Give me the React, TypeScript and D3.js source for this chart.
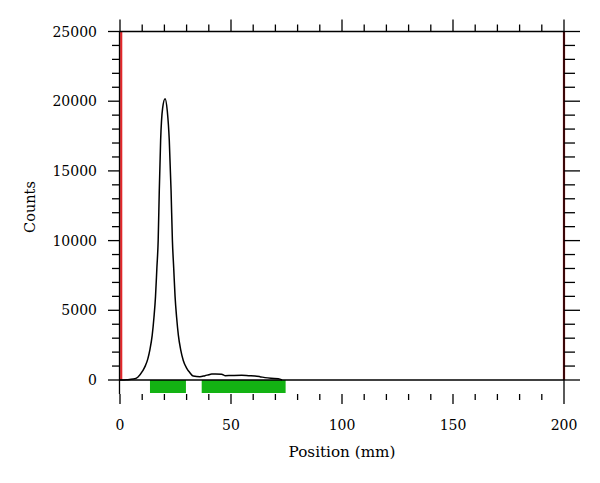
import { useEffect, useRef } from "react";
import * as d3 from "d3";

// profile
const positions = [0, 3, 6, 8, 10.2, 11.5, 12.5, 13.5, 14.5, 15.3, 16, 16.6, 17.2, 17.7, 18.3, 19.2, 20.3, 21.3, 22.2, 23, 23.6, 24.2, 24.8, 25.5, 26.3, 27.3, 28.5, 30, 31.5, 33, 36, 38.3, 40, 41.3, 43, 45.8, 47.3, 50, 54.8, 58, 60.8, 63, 65.3, 68, 71.3, 73];
const counts = [0, 20, 70, 200, 650, 1050, 1500, 2200, 3200, 4500, 6000, 8000, 10030, 13610, 17190, 19500, 20180, 19300, 17190, 13610, 10030, 8000, 6000, 4500, 3200, 2200, 1400, 850, 520, 280, 230, 310, 380, 430, 430, 410, 310, 320, 335, 310, 290, 240, 170, 120, 90, 0];

// green segments in the strip under the axis
const segStart = [13.5, 36.8];
const segEnd = [29.7, 74.6];

// red markers
const markers = [0, 200];

const xTicks = [0, 50, 100, 150, 200];
const yTicks = [0, 5000, 10000, 15000, 20000, 25000];

const font = "'DejaVu Serif', serif";

const App = () => {
  const ref = useRef<SVGSVGElement>(null);

  useEffect(() => {
    const svg = d3.select(ref.current);
    svg.selectAll("*").remove();

    const x = d3.scaleLinear().domain([0, 200]).range([120, 564]);
    const y = d3.scaleLinear().domain([0, 25000]).range([380, 31.5]);
    const stripBottom = 394;

    const minorX = d3.range(0, 201, 10);
    const minorY = d3.range(0, 25001, 1000);

    // green segments
    svg.append("g")
      .selectAll("rect")
      .data(segStart.map((s, i) => [s, segEnd[i]]))
      .join("rect")
      .attr("x", (d) => x(d[0]))
      .attr("width", (d) => x(d[1]) - x(d[0]))
      .attr("y", y(0))
      .attr("height", stripBottom - y(0) - 1)
      .attr("fill", "#13b313");

    // red markers
    svg.append("g")
      .selectAll("line")
      .data(markers)
      .join("line")
      .attr("x1", (d) => x(d) + (d === 0 ? 1.2 : 0))
      .attr("x2", (d) => x(d) + (d === 0 ? 1.2 : 0))
      .attr("y1", y(25000))
      .attr("y2", y(0))
      .attr("stroke", (d) => (d === 0 ? "#e3262a" : "#a8161a"))
      .attr("stroke-width", 2.2);

    const ax = svg.append("g").attr("stroke", "#000").attr("stroke-width", 1.3).attr("fill", "none");

    // frame lines
    ax.append("line").attr("x1", x(0)).attr("x2", x(200)).attr("y1", y(25000)).attr("y2", y(25000));
    ax.append("line").attr("x1", x(0)).attr("x2", x(200)).attr("y1", y(0)).attr("y2", y(0));
    ax.append("line").attr("x1", x(0) - 0.5).attr("x2", x(0) - 0.5).attr("y1", y(25000)).attr("y2", stripBottom);
    ax.append("line").attr("x1", x(200)).attr("x2", x(200)).attr("y1", y(25000)).attr("y2", stripBottom);

    // left ticks
    ax.selectAll(".yl")
      .data(minorY)
      .join("line")
      .attr("x1", (d) => x(0) - (d % 5000 === 0 ? 12 : 8))
      .attr("x2", x(0))
      .attr("y1", (d) => y(d))
      .attr("y2", (d) => y(d));

    // right ticks
    ax.selectAll(".yr")
      .data(minorY)
      .join("line")
      .attr("x1", x(200))
      .attr("x2", (d) => x(200) + (d % 5000 === 0 ? 16 : 11))
      .attr("y1", (d) => y(d))
      .attr("y2", (d) => y(d));

    // top ticks
    ax.selectAll(".xt")
      .data(minorX)
      .join("line")
      .attr("x1", (d) => x(d))
      .attr("x2", (d) => x(d))
      .attr("y1", y(25000))
      .attr("y2", (d) => y(25000) - (d % 50 === 0 ? 12 : 7));

    // bottom ticks
    ax.selectAll(".xb")
      .data(minorX)
      .join("line")
      .attr("x1", (d) => x(d))
      .attr("x2", (d) => x(d))
      .attr("y1", stripBottom)
      .attr("y2", (d) => stripBottom + (d % 50 === 0 ? 10 : 6));

    // profile line
    const line = d3.line<number>()
      .x((d) => x(d))
      .y((_, i) => y(counts[i]))
      .curve(d3.curveMonotoneX);
    svg.append("path")
      .attr("d", line(positions))
      .attr("fill", "none")
      .attr("stroke", "#000")
      .attr("stroke-width", 1.5);

    // tick labels
    const labels = svg.append("g").attr("font-family", font).attr("font-size", 14).attr("fill", "#000");
    labels.selectAll(".yl")
      .data(yTicks)
      .join("text")
      .attr("x", 97)
      .attr("y", (d) => y(d))
      .attr("dy", "0.36em")
      .attr("text-anchor", "end")
      .text((d) => d);
    labels.selectAll(".xl")
      .data(xTicks)
      .join("text")
      .attr("x", (d) => x(d))
      .attr("y", 430)
      .attr("text-anchor", "middle")
      .text((d) => d);

    labels.append("text")
      .attr("x", 342)
      .attr("y", 457)
      .attr("text-anchor", "middle")
      .attr("font-size", 15.2)
      .text("Position (mm)");
    labels.append("text")
      .attr("transform", "translate(35,207) rotate(-90)")
      .attr("text-anchor", "middle")
      .attr("font-size", 14.5)
      .text("Counts");
  }, []);

  return (
    <svg
      ref={ref}
      width={600}
      height={483}
      style={{ position: "absolute", left: 0, top: 0, background: "#fff" }}
    />
  );
};

export default App;
